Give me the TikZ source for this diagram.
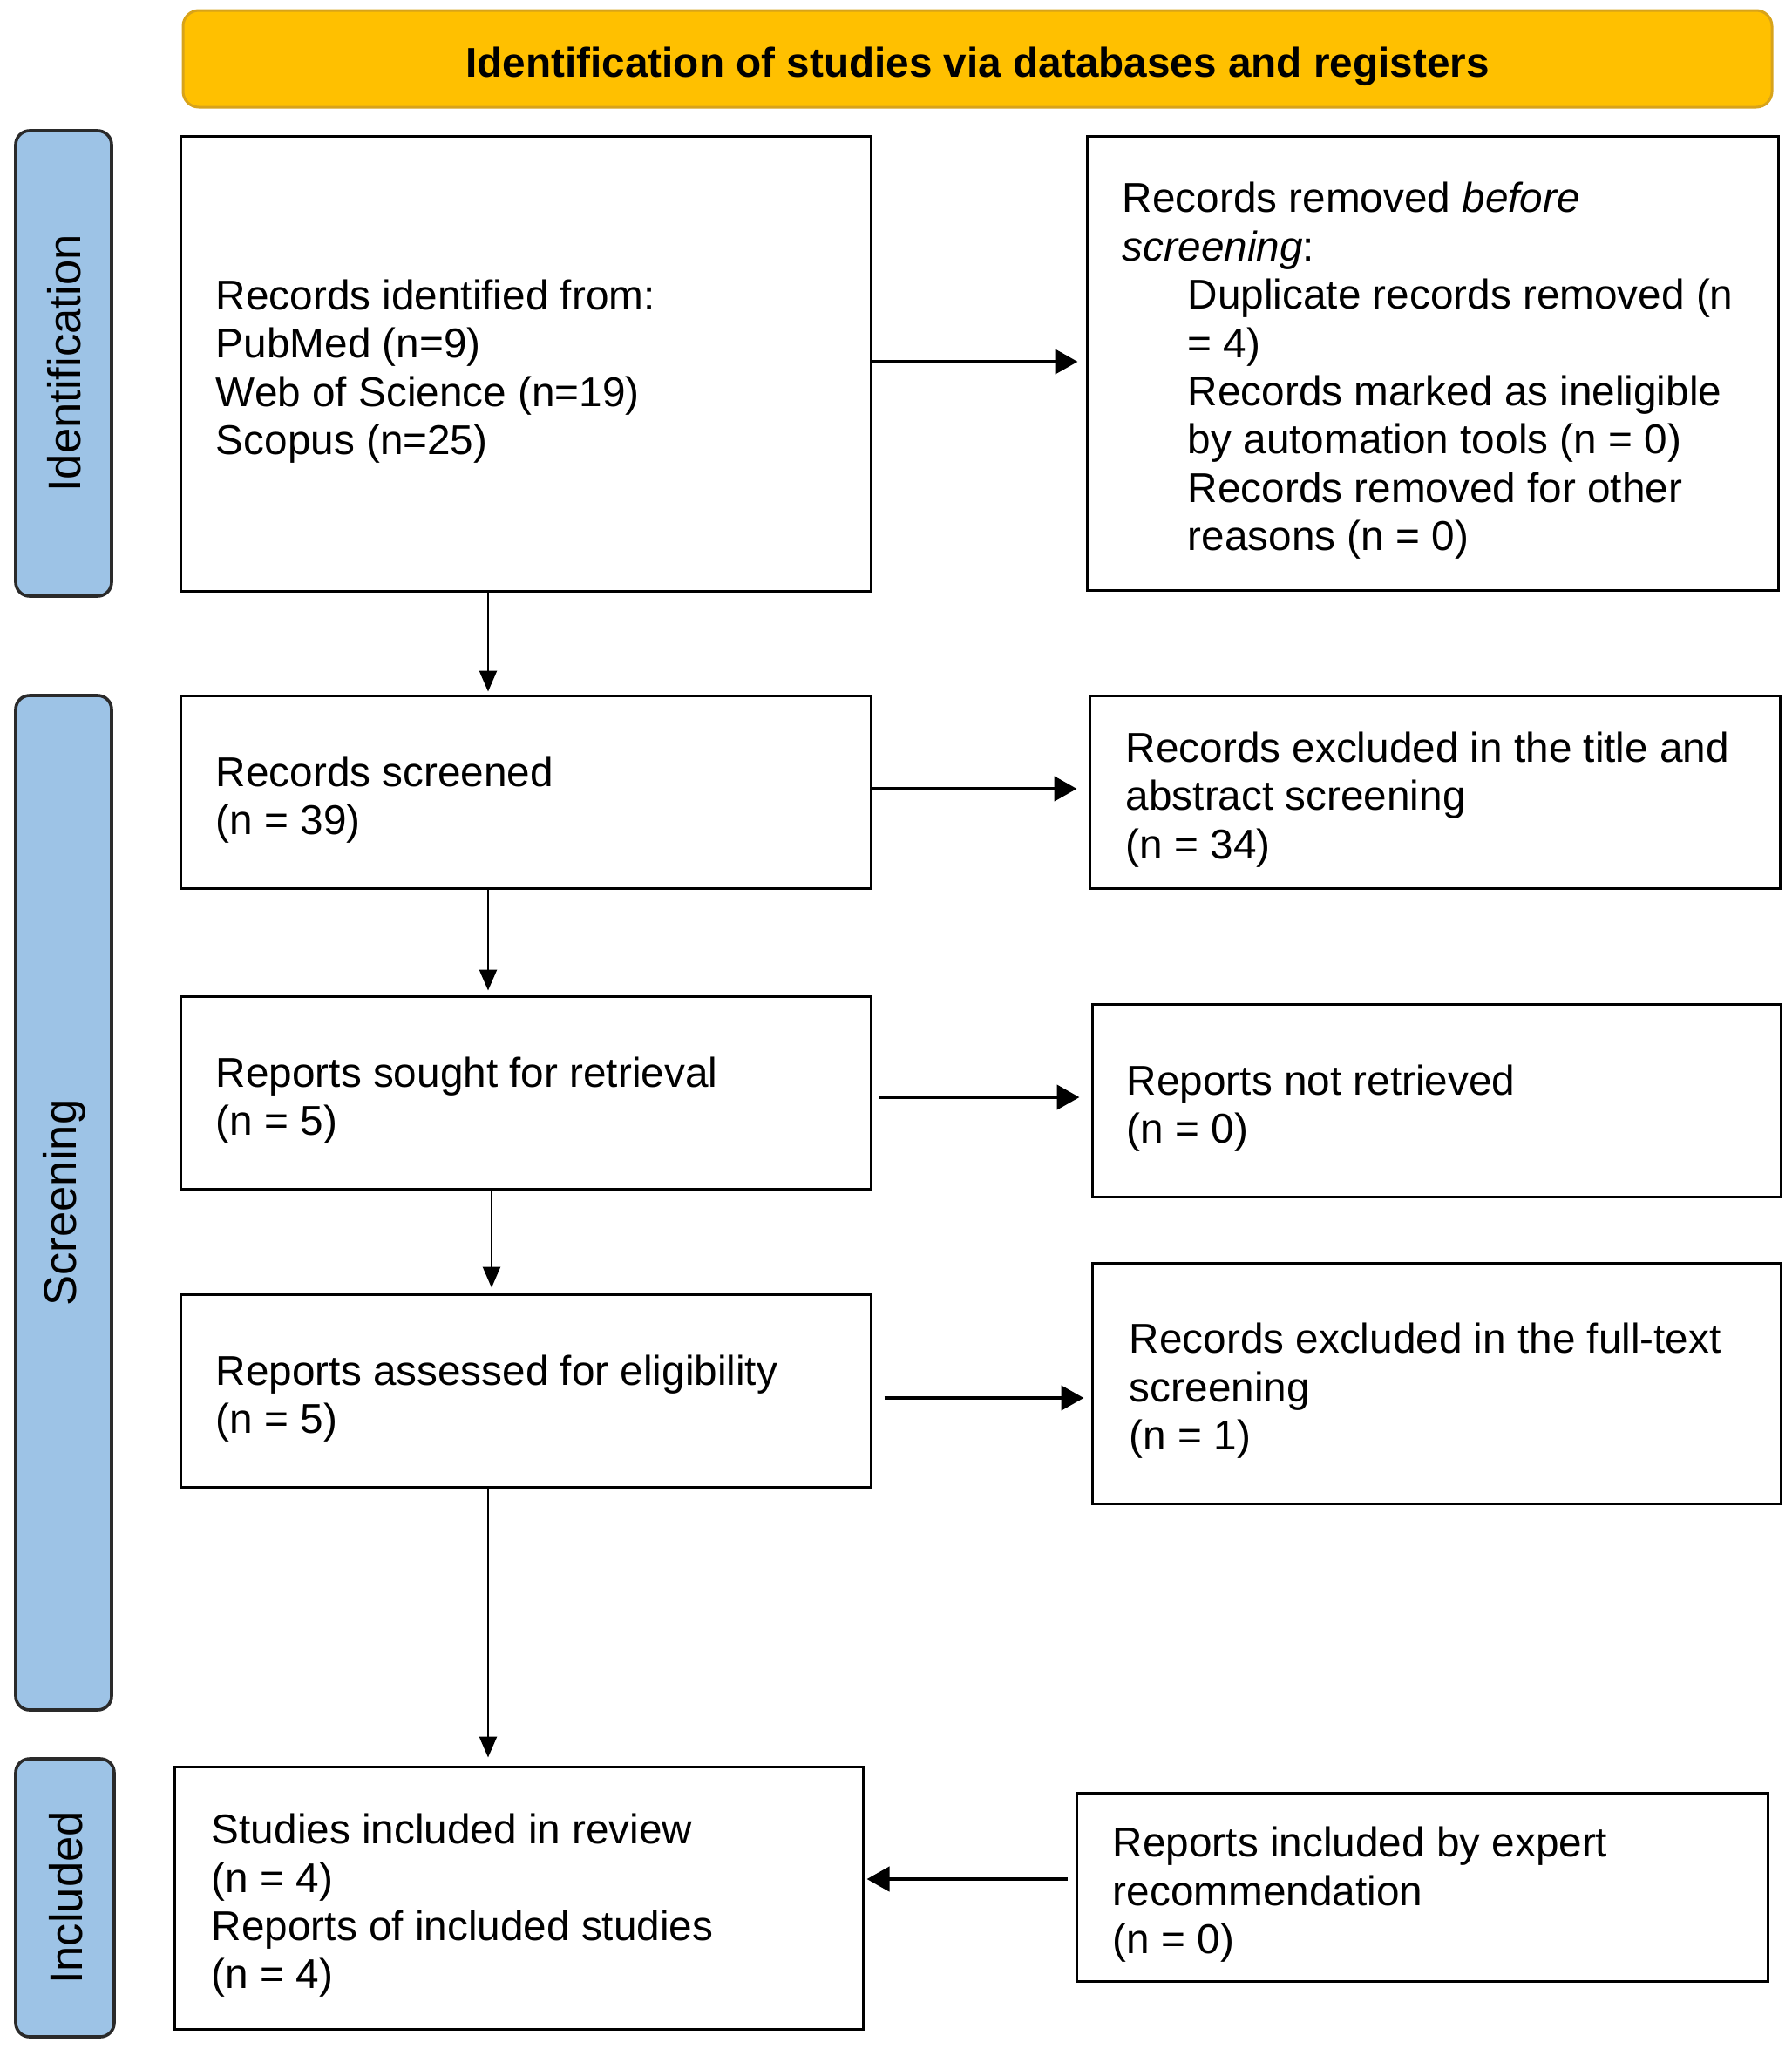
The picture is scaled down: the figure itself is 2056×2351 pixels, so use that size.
\documentclass[tikz,border=0pt]{standalone}
\usepackage{fontspec}
\setmainfont{Liberation Sans}
\usetikzlibrary{arrows.meta,calc}
\definecolor{bannerfill}{HTML}{FFC000}
\definecolor{bannerdraw}{HTML}{D8A31A}
\definecolor{barfill}{HTML}{9DC3E6}
\definecolor{bardraw}{HTML}{2A2A2A}
\begin{document}
\begin{tikzpicture}[x=0.5pt,y=-0.5pt,
  flowbox/.style={draw=black,line width=1.5pt,fill=white,inner sep=0pt},
  txt/.style={anchor=west,align=left,inner sep=0pt,font=\fontsize{23.85}{27.7}\selectfont},
  banner/.style={draw=bannerdraw,line width=1.5pt,fill=bannerfill,rounded corners=9pt,inner sep=0pt},
  bannertxt/.style={inner sep=0pt,font=\fontsize{23.85}{27.7}\selectfont\bfseries},
  sidebar/.style={draw=bardraw,line width=1.8pt,fill=barfill,rounded corners=8pt,inner sep=0pt},
  sidelabel/.style={rotate=90,inner sep=0pt,font=\fontsize{26.3}{30}\selectfont},
  varrow/.style={line width=1.3pt,-{Triangle[length=12pt,width=10pt]}},
  harrow/.style={line width=2.2pt,-{Triangle[length=13pt,width=14pt]}}]
\useasboundingbox (0,0) rectangle (2056,2351);

% banner
\node[banner,minimum width=911.5pt,minimum height=55.5pt] (banner) at (1121.5,67.5) {};
\node[bannertxt] (bantxt) at ($(banner.center)+(0,9)$)
  {Identification of studies via databases and registers};

% side bars
\node[sidebar,minimum width=55pt,minimum height=267pt] (idbar) at (73,417) {};
\node[sidelabel] (idlab) at ($(idbar.center)+(1,0)$) {Identification};
\node[sidebar,minimum width=55pt,minimum height=582pt] (scbar) at (73,1380) {};
\node[sidelabel] (sclab) at ($(scbar.center)+(1,0)$) {Screening};
\node[sidebar,minimum width=56.5pt,minimum height=159.5pt] (inbar) at (74.5,2177.5) {};
\node[sidelabel] (inlab) at ($(inbar.center)+(1,0)$) {Included};

% left column
\node[flowbox,minimum width=396pt,minimum height=261pt] (box1) at (603,417) {};
\node[txt] (t1) at ($(box1.west)+(42,9)$) {Records identified from:\\PubMed (n=9)\\Web of Science (n=19)\\Scopus (n=25)};
\node[flowbox,minimum width=396pt,minimum height=110.5pt] (box2) at (603,908.5) {};
\node[txt] (t2) at ($(box2.west)+(42,9)$) {Records screened\\(n = 39)};
\node[flowbox,minimum width=396pt,minimum height=110.5pt] (box3) at (603,1253.5) {};
\node[txt] (t3) at ($(box3.west)+(42,9)$) {Reports sought for retrieval\\(n = 5)};
\node[flowbox,minimum width=396pt,minimum height=110.5pt] (box4) at (603,1595.5) {};
\node[txt] (t4) at ($(box4.west)+(42,9)$) {Reports assessed for eligibility\\(n = 5)};
\node[flowbox,minimum width=395pt,minimum height=150.5pt] (box5) at (595,2177.5) {};
\node[txt] (t5) at ($(box5.west)+(44,9)$) {Studies included in review\\(n = 4)\\Reports of included studies\\(n = 4)};

% right column
\node[flowbox,minimum width=396.5pt,minimum height=260.5pt] (r1) at (1643.5,416.5) {};
\node[txt] (rt1) at ($(r1.west)+(42,9)$) {Records removed \textit{before}\\\textit{screening}:\\
  \hspace*{37.5pt}Duplicate records removed (n\\\hspace*{37.5pt}= 4)\\
  \hspace*{37.5pt}Records marked as ineligible\\\hspace*{37.5pt}by automation tools (n = 0)\\
  \hspace*{37.5pt}Records removed for other\\\hspace*{37.5pt}reasons (n = 0)};
\node[flowbox,minimum width=396pt,minimum height=110.5pt] (r2) at (1646,908.5) {};
\node[txt] (rt2) at ($(r2.west)+(43,9)$) {Records excluded in the title and\\abstract screening\\(n = 34)};
\node[flowbox,minimum width=395pt,minimum height=110.5pt] (r3) at (1648,1262.5) {};
\node[txt] (rt3) at ($(r3.west)+(41,9)$) {Reports not retrieved\\(n = 0)};
\node[flowbox,minimum width=395pt,minimum height=138pt] (r4) at (1648,1587) {};
\node[txt] (rt4) at ($(r4.west)+(44,9)$) {Records excluded in the full-text\\screening\\(n = 1)};
\node[flowbox,minimum width=396.5pt,minimum height=108pt] (r5) at (1631.5,2165) {};
\node[txt] (rt5) at ($(r5.west)+(43,9)$) {Reports included by expert\\recommendation\\(n = 0)};

% horizontal arrows
\draw[harrow] ($(box1.east)+(0,-2)$) -- ($(r1.west)+(-9,-1.5)$);
\draw[harrow] ($(box2.east)+(0,-3.5)$) -- ($(r2.west)+(-13,-3.5)$);
\draw[harrow] ($(box3.east)+(8,5.5)$) -- ($(r3.west)+(-13,-3.5)$);
\draw[harrow] ($(box4.east)+(14,8.5)$) -- ($(r4.west)+(-8,17)$);
\draw[harrow] ($(r5.west)+(-9,-9)$) -- ($(box5.east)+(3,-21.5)$);

% vertical arrows
\draw[varrow] ($(box1.south)+(-43,0)$) -- ($(box2.north)+(-43,-3)$);
\draw[varrow] ($(box2.south)+(-43,0)$) -- ($(box3.north)+(-43,-5)$);
\draw[varrow] ($(box3.south)+(-39,0)$) -- ($(box4.north)+(-39,-6)$);
\draw[varrow] ($(box4.south)+(-43,0)$) -- ($(box5.north)+(-35,-9)$);
\end{tikzpicture}
\end{document}
